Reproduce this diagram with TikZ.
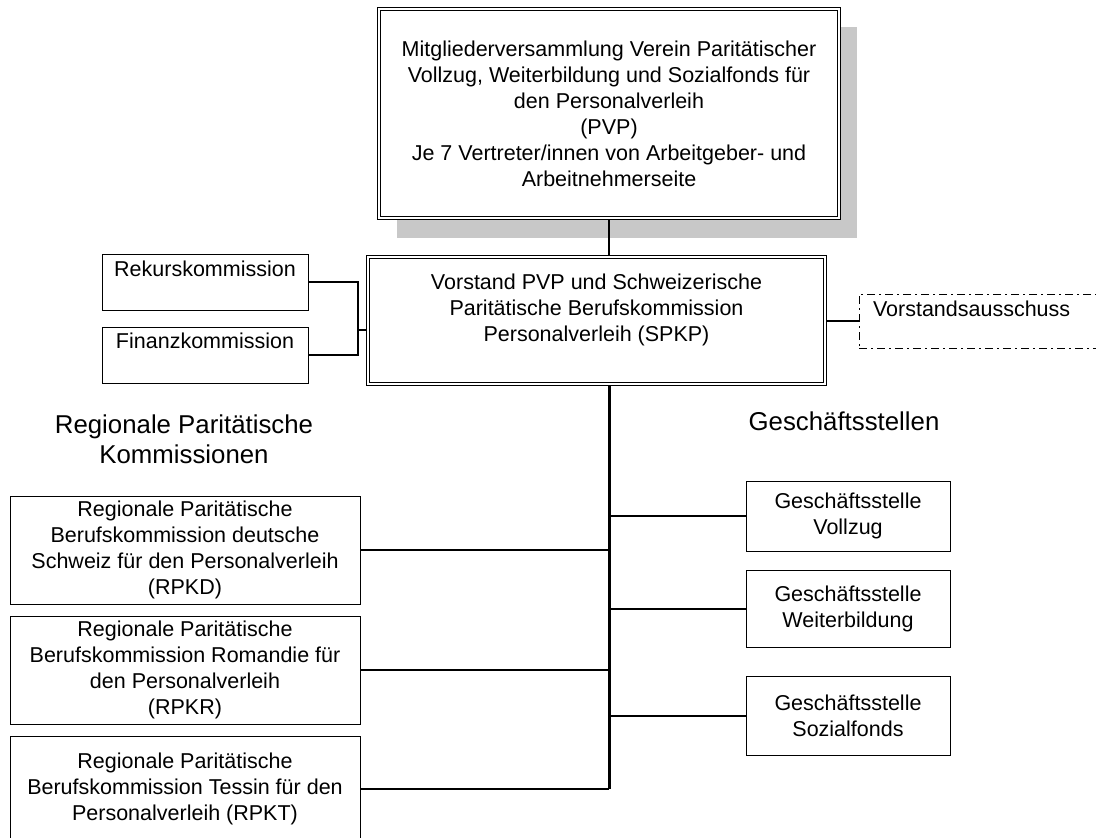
\documentclass[tikz,border=0pt]{standalone}
\usepackage{fontspec}
\setmainfont{Liberation Sans}
\pgfdeclarelayer{background}
\pgfsetlayers{background,main}
\definecolor{shadowgray}{RGB}{200,200,200}
\newcommand{\boxfont}{\fontsize{21.5}{26}\selectfont}
\newcommand{\headfont}{\fontsize{25.8}{30}\selectfont}

\begin{document}
\begin{tikzpicture}[x=1pt, y=-1pt,
							orgbox/.style={draw=black, line width=1pt, fill=white, inner sep=0pt, outer sep=0pt, align=center, font=\boxfont, anchor=north west},
							dblbox/.style={orgbox, double, double distance=1.8pt, line width=0.8pt},
							dashbox/.style={orgbox, dash pattern=on 8pt off 4pt on 2pt off 4pt},
							heading/.style={font=\headfont, align=center, anchor=base},
							link/.style={line width=2pt},
							trunk/.style={line width=3pt},
							]
							\clip (0,0) rectangle (1096,838);
							%Nodes
							\node[dblbox, minimum width=460, minimum height=209] (mv) at (379,9) {Mitgliederversammlung Verein Paritätischer\\Vollzug, Weiterbildung und Sozialfonds für\\den Personalverleih\\(PVP)\\Je 7 Vertreter/innen von Arbeitgeber- und\\Arbeitnehmerseite};
							\node[dblbox, minimum width=457, text height=84, text depth=43] (vs) at (368,257) {Vorstand PVP und Schweizerische\\Paritätische Berufskommission\\Personalverleih (SPKP)};
							\node[orgbox, minimum width=206, text height=22, text depth=34] (rk) at (102,254) {Rekurskommission};
							\node[orgbox, minimum width=206, text height=21, text depth=35] (fk) at (102,327) {Finanzkommission};
							\node[dashbox, align=left, inner xsep=14, text width=232, text height=22, text depth=32] (va) at (859,294) {Vorstandsausschuss};
							\node[heading] (rpk) at (184,463) {Regionale Paritätische\\Kommissionen};
							\node[heading] (gs) at (844,430) {Geschäftsstellen};
							\node[orgbox, minimum width=350, minimum height=108] (rpkd) at (10,496) {Regionale Paritätische\\Berufskommission deutsche\\Schweiz für den Personalverleih\\(RPKD)};
							\node[orgbox, minimum width=350, minimum height=108] (rpkr) at (10,616) {Regionale Paritätische\\Berufskommission Romandie für\\den Personalverleih\\(RPKR)};
							\node[orgbox, minimum width=350, minimum height=106] (rpkt) at (10,736) {Regionale Paritätische\\Berufskommission Tessin für den\\Personalverleih (RPKT)};
							\node[orgbox, minimum width=204, minimum height=70] (gsv) at (746,481) {Geschäftsstelle\\Vollzug};
							\node[orgbox, minimum width=204, minimum height=77] (gsw) at (746,570) {Geschäftsstelle\\Weiterbildung};
							\node[orgbox, minimum width=204, minimum height=79] (gss) at (746,676) {Geschäftsstelle\\Sozialfonds};
							\coordinate (kj) at (358,330);

							\begin{pgfonlayer}{background}
							%Shadow
							\fill[shadowgray] ([shift={(18,18)}]mv.north west) rectangle ([shift={(18,20)}]mv.south east);
							%Lines
							\draw[link] (mv.south) --  (mv.south |- vs.north);
							\draw[trunk] (mv.south |- vs.south) --  (mv.south |- rpkt.east);
							\draw[link] (rk.east) -| (kj) |- (fk.east);
							\draw[link] (kj) --  (kj -| vs.west);
							\draw[link] (vs.east) --  (vs.east -| va.west);
							\draw[link] (rpkd.east) --  (rpkd.east -| mv.south);
							\draw[link] (rpkr.east) --  (rpkr.east -| mv.south);
							\draw[link] (rpkt.east) --  (rpkt.east -| mv.south);
							\draw[link] (gsv.west) --  (gsv.west -| mv.south);
							\draw[link] (gsw.west) --  (gsw.west -| mv.south);
							\draw[link] (gss.west) --  (gss.west -| mv.south);
							\end{pgfonlayer}
						\end{tikzpicture}
\end{document}
